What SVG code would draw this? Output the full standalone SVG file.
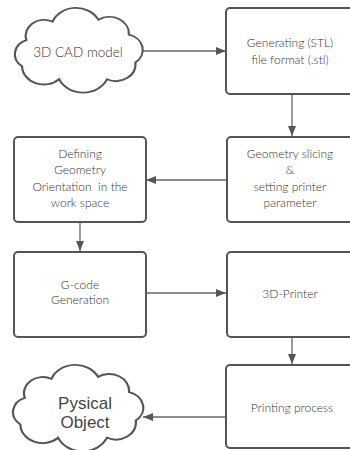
<svg xmlns="http://www.w3.org/2000/svg" width="350" height="450" viewBox="0 0 350 450">
<style>
.box{fill:#fff;stroke:#555;stroke-width:2}
.cloud{fill:#fff;stroke:#555;stroke-width:2}
.bt{font-family:Lato,"Open Sans",sans-serif;font-size:12px;font-weight:300;fill:#333;text-anchor:middle}
.ct{font-family:Lato,"Open Sans",sans-serif;font-size:13.5px;font-weight:300;fill:#333;text-anchor:middle}
.at{font-family:"Liberation Sans",Arial,sans-serif;font-size:17px;fill:#444;text-anchor:middle}
.con{stroke:#666;stroke-width:1.3;fill:none;marker-end:url(#ah)}
</style>
<defs>
<marker id="ah" viewBox="0 0 10 8" refX="10" refY="4" markerWidth="10" markerHeight="8" markerUnits="userSpaceOnUse" orient="auto">
<path d="M0,0 L10,4 L0,8 Z" fill="#555"/>
</marker>
<path id="cloudShape" d="M18,32 A17,17 0 0 1 42,12 A23,23 0 0 1 84,10 A18,18 0 0 1 112,26 A17,17 0 0 1 118,56 A18,18 0 0 1 92,74 A24,24 0 0 1 48,74 A20,20 0 0 1 14,60 A16,16 0 0 1 18,32 Z"/>
</defs>
<rect width="350" height="450" fill="#fff"/>
<g id="connectors">
<line class="con" x1="143" y1="51" x2="226" y2="51"/>
<line class="con" x1="292" y1="94" x2="292" y2="136"/>
<line class="con" x1="227" y1="180" x2="146" y2="180"/>
<line class="con" x1="80" y1="222" x2="80" y2="251"/>
<line class="con" x1="146" y1="293" x2="226" y2="293"/>
<line class="con" x1="292" y1="337" x2="292" y2="364"/>
<line class="con" x1="226" y1="417" x2="143" y2="417"/>
</g>
<g id="cad">
<use href="#cloudShape" class="cloud" transform="translate(6.8,10.4) scale(1.09,0.93)" vector-effect="non-scaling-stroke"/>
<text class="ct" x="78" y="57">3D CAD model</text>
</g>
<g id="stl">
<rect class="box" x="226" y="8" width="140" height="86" rx="4"/>
<text class="bt" x="290" y="47">Generating (STL)</text>
<text class="bt" x="290" y="64">file format (.stl)</text>
</g>
<g id="slicing">
<rect class="box" x="227" y="137" width="140" height="85" rx="4"/>
<text class="bt" x="290" y="158">Geometry slicing</text>
<text class="bt" x="290" y="174">&amp;</text>
<text class="bt" x="290" y="191">setting printer</text>
<text class="bt" x="290" y="207">parameter</text>
</g>
<g id="orientation">
<rect class="box" x="14" y="137" width="132" height="85" rx="4"/>
<text class="bt" x="80" y="158">Defining</text>
<text class="bt" x="80" y="174">Geometry</text>
<text class="bt" x="80" y="191" xml:space="preserve">Orientation  in the</text>
<text class="bt" x="80" y="207">work space</text>
</g>
<g id="gcode">
<rect class="box" x="14" y="252" width="132" height="85" rx="4"/>
<text class="bt" x="80" y="289">G-code</text>
<text class="bt" x="80" y="304">Generation</text>
</g>
<g id="printer">
<rect class="box" x="227" y="252" width="140" height="85" rx="4"/>
<text class="bt" x="290" y="298">3D-Printer</text>
</g>
<g id="printing">
<rect class="box" x="226" y="365" width="140" height="83" rx="4"/>
<text class="bt" x="292" y="412">Printing process</text>
</g>
<g id="object">
<use href="#cloudShape" class="cloud" transform="translate(4.8,367.4) scale(1.11,0.95)" vector-effect="non-scaling-stroke"/>
<text class="at" x="85" y="409">Pysical</text>
<text class="at" x="85" y="428">Object</text>
</g>
</svg>
